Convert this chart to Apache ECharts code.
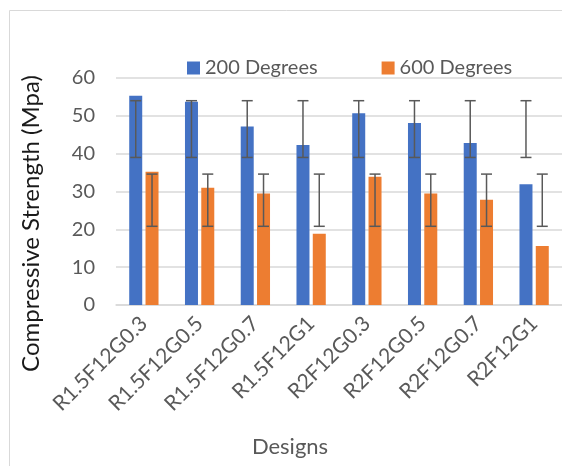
<!DOCTYPE html>
<html><head><meta charset="utf-8">
<script src="https://cdn.jsdelivr.net/npm/echarts@6/dist/echarts.min.js"></script>
<style>html,body{margin:0;padding:0;background:#fff;}#c{width:562px;height:466px;}</style>
</head><body><div id="c"></div>
<script>
const categories = ['R1.5F12G0.3','R1.5F12G0.5','R1.5F12G0.7','R1.5F12G1','R2F12G0.3','R2F12G0.5','R2F12G0.7','R2F12G1'];
const s200 = [55.3, 53.7, 47.2, 42.3, 50.7, 48.1, 42.8, 31.9];
const s600 = [35.2, 31.0, 29.5, 18.8, 33.9, 29.5, 27.8, 15.6];
const err200Low = [39, 39, 39, 39, 39, 39, 39, 39];
const err200High = [54, 54, 54, 54, 54, 54, 54, 54];
const err600Low = [20.8, 20.8, 20.8, 20.8, 20.8, 20.8, 20.8, 20.8];
const err600High = [34.6, 34.6, 34.6, 34.6, 34.6, 34.6, 34.6, 34.6];
const yTicks = [0, 10, 20, 30, 40, 50, 60];

const FONT = 'Lato';
const BAR_W = 13, GAP = 3.3;
function errSeries(name, low, high, offset) {
  return {
    type: 'custom', name: name + ' err', z: 10, silent: true,
    data: categories.map((c, i) => [i, low[i], high[i]]),
    renderItem: function (params, api) {
      const lo = api.coord([api.value(0), api.value(1)]);
      const hi = api.coord([api.value(0), api.value(2)]);
      const x = lo[0] + offset;
      const cap = 5.5;
      const st = { stroke: '#595959', lineWidth: 1.5 };
      return { type: 'group', children: [
        { type: 'line', shape: { x1: x, y1: lo[1], x2: x, y2: hi[1] }, style: st },
        { type: 'line', shape: { x1: x - cap, y1: lo[1], x2: x + cap, y2: lo[1] }, style: st },
        { type: 'line', shape: { x1: x - cap, y1: hi[1], x2: x + cap, y2: hi[1] }, style: st }
      ]};
    }
  };
}
const off = (BAR_W + GAP) / 2;
const chart = echarts.init(document.getElementById('c'), null, { renderer: 'canvas' });
chart.setOption({
  animation: false,
  textStyle: { fontFamily: FONT },
  graphic: [{ type: 'rect', shape: { x: 9.5, y: 10.5, width: 700, height: 700 }, style: { fill: 'none', stroke: '#d9d9d9', lineWidth: 1 }, z: -10 }],
  legend: {
    top: 53, left: 182, itemWidth: 13, itemHeight: 13, itemGap: 64, icon: 'rect',
    data: ['200 Degrees', '600 Degrees'],
    textStyle: { fontSize: 20, color: '#595959', fontFamily: FONT }
  },
  grid: { left: 116, top: 78, width: 450, height: 227 },
  xAxis: {
    type: 'category', data: categories,
    name: 'Designs', nameLocation: 'middle', nameGap: 131,
    nameTextStyle: { fontSize: 22, color: '#595959', fontFamily: FONT, padding: [0, 98, 0, 0] },
    axisLine: { lineStyle: { color: '#d9d9d9', width: 1.5 } },
    axisTick: { show: false },
    axisLabel: { rotate: 45, fontSize: 21, color: '#595959', margin: 15, interval: 0, fontFamily: FONT }
  },
  yAxis: {
    type: 'value', min: yTicks[0], max: yTicks[yTicks.length - 1], interval: 10,
    name: 'Compressive Strength (Mpa)', nameLocation: 'middle', nameGap: 73,
    nameTextStyle: { fontSize: 24, color: '#1a1a1a', fontFamily: FONT, padding: [0, 64, 0, 0] },
    axisLine: { show: false }, axisTick: { show: false },
    axisLabel: { fontSize: 20, color: '#595959', margin: 21, fontFamily: FONT },
    splitLine: { lineStyle: { color: '#d9d9d9', width: 1.5 } }
  },
  series: [
    { name: '200 Degrees', type: 'bar', data: s200, barWidth: BAR_W, barGap: (GAP / BAR_W * 100) + '%', itemStyle: { color: '#4472C4' } },
    { name: '600 Degrees', type: 'bar', data: s600, barWidth: BAR_W, itemStyle: { color: '#ED7D31' } },
    errSeries('200 Degrees', err200Low, err200High, -off),
    errSeries('600 Degrees', err600Low, err600High, off)
  ]
});
</script></body></html>
